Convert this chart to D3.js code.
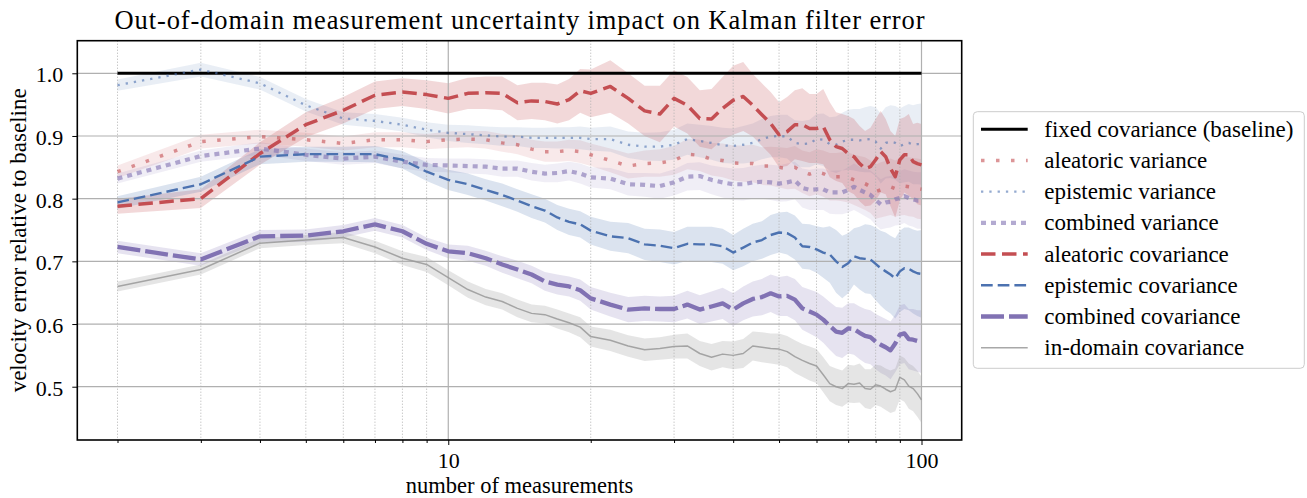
<!DOCTYPE html>
<html lang="en">
<head>
<meta charset="UTF-8" />
<title>Out-of-domain measurement uncertainty impact on Kalman filter error</title>
<script src="https://cdn.jsdelivr.net/npm/d3@7/dist/d3.min.js"></script>
<style>
  body { margin: 0; background: #fff; }
  svg text { font-family: "Liberation Serif", "Times New Roman", serif; fill: #000; }
</style>
</head>
<body>
<svg id="chart" width="1307" height="498"></svg>
<script>
// x values shared by every series (number of measurements)
const nMeasurements = [2, 3, 4, 5, 6, 7, 8, 9, 10, 11, 12, 13, 14, 15, 16, 17, 18, 19, 20,
  22, 24, 26, 28, 30, 32, 34, 36, 38, 40, 42, 44, 46, 48, 50, 52, 54, 56, 58, 60,
  62, 64, 66, 68, 70, 72, 74, 76, 78, 80, 82, 84, 86, 88, 90, 92, 94, 96, 98, 100];

const baselineValue = 1.0;

// mean relative error
const aleatoricVariance = [.843, .891, .899, .894, .888, .894, .894, .891, .894,
  .895, .894, .889, .886, .879, .875, .875, .877, .875, .870,
  .861, .852, .856, .857, .861, .871, .869, .863, .861, .857,
  .856, .856, .852, .852, .850, .848, .850, .843, .839, .843,
  .840, .835, .835, .835, .834, .830, .827, .824, .819, .811,
  .814, .816, .819, .816, .819, .820, .819, .818, .816, .815];
const epistemicVariance = [.981, 1.006, .984, .949, .928, .924, .918, .910, .905,
  .903, .901, .899, .899, .897, .897, .897, .897, .897, .895,
  .895, .886, .883, .883, .886, .895, .892, .889, .885, .884,
  .886, .889, .895, .899, .900, .899, .889, .887, .888, .895,
  .894, .887, .886, .891, .894, .894, .893, .894, .895, .891,
  .880, .889, .891, .889, .884, .887, .889, .886, .887, .887];
const combinedVariance = [.832, .868, .880, .870, .864, .867, .859, .854, .853,
  .852, .851, .848, .848, .843, .840, .841, .844, .840, .834,
  .832, .823, .822, .820, .826, .835, .836, .830, .826, .823,
  .823, .826, .827, .826, .824, .826, .829, .817, .814, .815,
  .815, .810, .810, .810, .814, .819, .814, .810, .806, .798,
  .791, .794, .795, .799, .801, .804, .801, .799, .797, .797];
const aleatoricCovariance = [.788, .800, .872, .918, .941, .965, .970, .966, .960,
  .968, .969, .968, .953, .956, .955, .951, .958, .972, .968,
  .979, .960, .940, .935, .960, .949, .928, .927, .944, .957,
  .963, .949, .934, .920, .902, .907, .918, .918, .912, .912,
  .915, .894, .883, .880, .872, .867, .856, .848, .851, .862,
  .875, .867, .848, .835, .862, .870, .870, .859, .856, .854];
const epistemicCovariance = [.794, .823, .867, .871, .871, .871, .862, .843, .830,
  .823, .814, .806, .797, .788, .781, .770, .763, .759, .749,
  .740, .737, .727, .725, .721, .728, .727, .727, .724, .714,
  .722, .730, .734, .742, .746, .745, .738, .724, .723, .719,
  .714, .711, .700, .691, .697, .708, .705, .704, .703, .696,
  .689, .684, .679, .673, .684, .689, .688, .684, .681, .680];
const combinedCovariance = [.723, .703, .740, .741, .748, .759, .748, .728, .716,
  .713, .705, .695, .687, .679, .668, .663, .660, .654, .641,
  .631, .623, .625, .624, .624, .631, .623, .628, .633, .623,
  .633, .640, .643, .649, .644, .645, .639, .625, .620, .615,
  .607, .597, .588, .586, .593, .592, .586, .581, .579, .572,
  .567, .563, .558, .569, .583, .585, .576, .575, .573, .572];
const inDomainCovariance = [.660, .687, .729, .734, .738, .723, .705, .695, .674,
  .655, .643, .636, .625, .617, .615, .608, .602, .595, .580,
  .574, .565, .559, .561, .564, .565, .553, .547, .552, .550,
  .553, .565, .563, .561, .560, .556, .548, .542, .537, .533,
  .519, .505, .500, .497, .505, .504, .506, .497, .496, .503,
  .501, .496, .492, .495, .515, .511, .501, .497, .489, .479];

// half width of the shaded band around each mean
const aleatoricVarianceSpread = [.010, .011, .011, .011, .011, .012, .012, .012, .013,
  .013, .014, .014, .015, .015, .016, .016, .017, .018, .018,
  .019, .020, .021, .022, .023, .024, .025, .026, .027, .028,
  .029, .030, .030, .031, .032, .033, .034, .034, .035, .036,
  .037, .038, .038, .039, .040, .040, .041, .042, .042, .043,
  .044, .044, .045, .045, .046, .046, .047, .047, .048, .048];
const epistemicVarianceSpread = [.009, .011, .010, .010, .010, .011, .011, .012, .013,
  .014, .014, .015, .015, .016, .016, .017, .017, .018, .018,
  .020, .021, .022, .023, .024, .025, .026, .027, .028, .028,
  .030, .031, .032, .033, .034, .035, .036, .037, .038, .040,
  .042, .043, .045, .046, .048, .049, .050, .052, .053, .055,
  .056, .057, .058, .059, .060, .061, .062, .063, .064, .065];
const combinedVarianceSpread = [.008, .009, .010, .010, .010, .010, .011, .011, .011,
  .012, .012, .013, .013, .014, .014, .015, .015, .016, .016,
  .017, .018, .019, .020, .021, .022, .022, .023, .024, .025,
  .026, .026, .027, .028, .029, .030, .030, .031, .032, .033,
  .033, .034, .035, .035, .036, .037, .037, .038, .039, .040,
  .040, .041, .041, .042, .043, .043, .044, .044, .045, .045];
const aleatoricCovarianceSpread = [.012, .015, .018, .020, .021, .022, .022, .023, .024,
  .025, .026, .027, .028, .029, .030, .031, .033, .035, .038,
  .042, .040, .040, .045, .045, .045, .045, .048, .050, .055,
  .055, .050, .050, .050, .052, .055, .055, .058, .055, .055,
  .060, .060, .055, .055, .060, .060, .060, .060, .062, .065,
  .065, .060, .060, .065, .065, .060, .065, .060, .065, .065];
const epistemicCovarianceSpread = [.010, .012, .012, .012, .012, .013, .014, .015, .016,
  .017, .017, .018, .018, .019, .019, .020, .021, .021, .022,
  .023, .024, .025, .026, .026, .027, .028, .028, .028, .028,
  .030, .030, .030, .032, .032, .034, .035, .036, .036, .037,
  .040, .045, .050, .050, .048, .045, .050, .055, .055, .058,
  .060, .062, .062, .064, .065, .065, .066, .067, .068, .070];
const combinedCovarianceSpread = [.010, .010, .010, .010, .010, .010, .010, .010, .011,
  .012, .012, .013, .014, .014, .015, .016, .016, .017, .018,
  .019, .020, .020, .020, .021, .022, .023, .024, .025, .026,
  .027, .028, .029, .030, .031, .032, .033, .034, .035, .036,
  .037, .038, .039, .040, .040, .041, .042, .043, .043, .044,
  .045, .045, .046, .046, .047, .047, .048, .049, .049, .050];
const inDomainCovarianceSpread = [.008, .008, .008, .008, .009, .010, .011, .012, .012,
  .013, .013, .013, .014, .014, .014, .015, .015, .016, .016,
  .017, .017, .018, .018, .019, .020, .020, .021, .021, .022,
  .023, .023, .024, .024, .025, .025, .026, .026, .027, .027,
  .028, .028, .029, .029, .030, .030, .031, .031, .032, .032,
  .033, .033, .034, .034, .035, .035, .036, .036, .037, .037];

const xMajorTicks = [10, 100];
const xMinorTicks = [2, 3, 4, 5, 6, 7, 8, 9, 20, 30, 40, 50, 60, 70, 80, 90];
const yTicks = [0.5, 0.6, 0.7, 0.8, 0.9, 1.0];

const red = "#c44e52", blue = "#4c72b0", purple = "#8172b3", grey = "#999999";

const series = [
  { label: "aleatoric variance", mean: aleatoricVariance, spread: aleatoricVarianceSpread,
    color: red, opacity: 0.6, band: 0.12, width: 3.5, dash: "3.5 11.5" },
  { label: "epistemic variance", mean: epistemicVariance, spread: epistemicVarianceSpread,
    color: blue, opacity: 0.6, band: 0.12, width: 2.3, dash: "2.3 6" },
  { label: "combined variance", mean: combinedVariance, spread: combinedVarianceSpread,
    color: purple, opacity: 0.6, band: 0.12, width: 4.2, dash: "5 5" },
  { label: "aleatoric covariance", mean: aleatoricCovariance, spread: aleatoricCovarianceSpread,
    color: red, opacity: 1, band: 0.22, width: 3.5, dash: "14.5 6.5" },
  { label: "epistemic covariance", mean: epistemicCovariance, spread: epistemicCovarianceSpread,
    color: blue, opacity: 1, band: 0.2, width: 2.4, dash: "11.7 5" },
  { label: "combined covariance", mean: combinedCovariance, spread: combinedCovarianceSpread,
    color: purple, opacity: 1, band: 0.2, width: 4.3, dash: "23 5" },
  { label: "in-domain covariance", mean: inDomainCovariance, spread: inDomainCovarianceSpread,
    color: grey, opacity: 0.85, band: 0.25, width: 1.5, dash: null }
];

const plot = { left: 77.3, right: 961.7, top: 40.7, bottom: 440 };

const svg = d3.select("#chart");

// matplotlib style 5% margin, in log space for x
const logLo = Math.log10(d3.min(nMeasurements));
const logHi = Math.log10(d3.max(nMeasurements));
const pad = 0.05 * (logHi - logLo);
const x = d3.scaleLog()
  .domain([Math.pow(10, logLo - pad), Math.pow(10, logHi + pad)])
  .range([plot.left, plot.right]);
const y = d3.scaleLinear().domain([0.415, 1.052]).range([plot.bottom, plot.top]);

// shaded bands
const area = d3.area()
  .x((d) => x(d.n))
  .y0((d) => y(d.m - d.s))
  .y1((d) => y(d.m + d.s));
const rows = (s) => nMeasurements.map((n, i) => ({ n: n, m: s.mean[i], s: s.spread[i] }));

svg.append("g")
  .selectAll("path")
  .data(series)
  .join("path")
  .attr("d", (s) => area(rows(s)))
  .attr("fill", (s) => s.color)
  .attr("fill-opacity", (s) => s.band);

// grid
const grid = svg.append("g").attr("stroke", "#b0b0b0");
grid.selectAll(".hgrid")
  .data(yTicks)
  .join("line")
  .attr("x1", plot.left).attr("x2", plot.right)
  .attr("y1", (d) => y(d)).attr("y2", (d) => y(d))
  .attr("stroke-width", 1.2);
grid.selectAll(".vmajor")
  .data(xMajorTicks)
  .join("line")
  .attr("class", "vmajor")
  .attr("x1", (d) => x(d)).attr("x2", (d) => x(d))
  .attr("y1", plot.top).attr("y2", plot.bottom)
  .attr("stroke-width", 1.2);
grid.selectAll(".vminor")
  .data(xMinorTicks)
  .join("line")
  .attr("class", "vminor")
  .attr("x1", (d) => x(d)).attr("x2", (d) => x(d))
  .attr("y1", plot.top).attr("y2", plot.bottom)
  .attr("stroke-width", 1)
  .attr("stroke-dasharray", "1 2");

// baseline
svg.append("line")
  .attr("x1", x(nMeasurements[0]))
  .attr("x2", x(nMeasurements[nMeasurements.length - 1]))
  .attr("y1", y(baselineValue)).attr("y2", y(baselineValue))
  .attr("stroke", "#000").attr("stroke-width", 3);

// mean lines
const line = d3.line().x((d) => x(d.n)).y((d) => y(d.m));
svg.append("g")
  .selectAll("path")
  .data(series)
  .join("path")
  .attr("d", (s) => line(rows(s)))
  .attr("fill", "none")
  .attr("stroke", (s) => s.color)
  .attr("stroke-opacity", (s) => s.opacity)
  .attr("stroke-width", (s) => s.width)
  .attr("stroke-dasharray", (s) => s.dash)
  .attr("stroke-linejoin", "round");

// axes
const xAxis = svg.append("g")
  .attr("transform", `translate(0,${plot.bottom})`)
  .call(d3.axisBottom(x).tickValues(xMajorTicks).tickFormat(d3.format("d")).tickSize(5).tickPadding(7));
const xMinor = svg.append("g")
  .attr("transform", `translate(0,${plot.bottom})`)
  .call(d3.axisBottom(x).tickValues(xMinorTicks).tickFormat("").tickSize(3));
const yAxis = svg.append("g")
  .attr("transform", `translate(${plot.left},0)`)
  .call(d3.axisLeft(y).tickValues(yTicks).tickFormat(d3.format(".1f")).tickSize(5).tickPadding(9));

[xAxis, xMinor, yAxis].forEach((g) => {
  g.select(".domain").remove();
  g.attr("font-family", null).attr("font-size", 22);
  g.selectAll(".tick line").attr("stroke", "#000").attr("stroke-width", 1);
});
yAxis.selectAll(".tick text").attr("dy", "8.4");

svg.append("rect")
  .attr("x", plot.left).attr("y", plot.top)
  .attr("width", plot.right - plot.left).attr("height", plot.bottom - plot.top)
  .attr("fill", "none").attr("stroke", "#000").attr("stroke-width", 1.6);

// labels
svg.append("text")
  .attr("x", (plot.left + plot.right) / 2).attr("y", 29.3)
  .attr("text-anchor", "middle").attr("font-size", 26.5)
  .attr("textLength", 810).attr("lengthAdjust", "spacing")
  .text("Out-of-domain measurement uncertainty impact on Kalman filter error");
svg.append("text")
  .attr("x", (plot.left + plot.right) / 2).attr("y", 492.5)
  .attr("text-anchor", "middle").attr("font-size", 22.5)
  .text("number of measurements");
svg.append("text")
  .attr("transform", `translate(25.5,${(plot.top + plot.bottom) / 2}) rotate(-90)`)
  .attr("text-anchor", "middle").attr("font-size", 23)
  .text("velocity error relative to baseline");

// legend
const legendItems = [{ label: "fixed covariance (baseline)", color: "#000", opacity: 1, width: 3, dash: null }]
  .concat(series);
const legend = svg.append("g").attr("transform", "translate(973.3,111.7)");
legend.append("rect")
  .attr("width", 331).attr("height", 256.6).attr("rx", 4)
  .attr("fill", "#fff").attr("fill-opacity", 0.8)
  .attr("stroke", "#cccccc").attr("stroke-width", 1);
const item = legend.selectAll(".item")
  .data(legendItems)
  .join("g")
  .attr("class", "item")
  .attr("transform", (d, i) => `translate(0,${17.6 + i * 31.2})`);
item.append("line")
  .attr("x1", 7.7).attr("x2", 54.4)
  .attr("stroke", (d) => d.color)
  .attr("stroke-opacity", (d) => d.opacity)
  .attr("stroke-width", (d) => d.width)
  .attr("stroke-dasharray", (d) => d.dash);
item.append("text")
  .attr("x", 71).attr("y", 7.4)
  .attr("font-size", 23)
  .text((d) => d.label);
</script>
</body>
</html>
